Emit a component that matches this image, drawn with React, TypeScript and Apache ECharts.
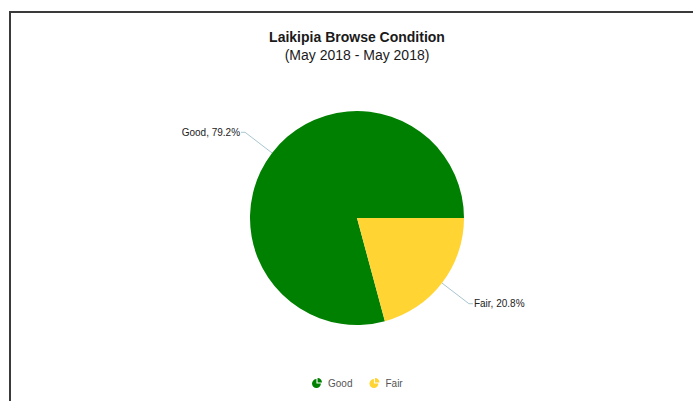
import React, { useEffect, useRef } from "react";
import * as echarts from "echarts";

const categories: string[] = ["Good", "Fair"];
const percentValues: number[] = [79.2, 20.8];
const sliceColors: string[] = ["#008000", "#ffd433"];
const titleText = "Laikipia Browse Condition";
const subtitleText = "(May 2018 - May 2018)";

const legendIcon =
  "path://M9,11 L9,3 A8,8 0 1,0 17,11 Z M11,9 L19,9 A8,8 0 0,0 11,1 Z";

export default function App() {
  const ref = useRef<HTMLDivElement>(null);
  useEffect(() => {
    if (!ref.current) return;
    const chart = echarts.init(ref.current, undefined, { renderer: "svg" });
    const fairShare = percentValues[1] / percentValues.reduce((a, b) => a + b, 0);
    chart.setOption({
      animation: false,
      backgroundColor: "#ffffff",
      graphic: [
        { type: "line", shape: { x1: 9, y1: 12, x2: 693, y2: 12 }, style: { stroke: "#3a3a3a", lineWidth: 2 } },
        { type: "line", shape: { x1: 10, y1: 11, x2: 10, y2: 401 }, style: { stroke: "#3a3a3a", lineWidth: 2 } },
        {
          type: "text",
          x: 357,
          y: 37,
          style: {
            text: titleText,
            textAlign: "center",
            textVerticalAlign: "middle",
            font: "bold 14px 'Liberation Sans', Arial, sans-serif",
            fill: "#1a1a1a",
          },
        },
        {
          type: "text",
          x: 357,
          y: 55,
          style: {
            text: subtitleText,
            textAlign: "center",
            textVerticalAlign: "middle",
            font: "14px 'Liberation Sans', Arial, sans-serif",
            fill: "#1a1a1a",
          },
        },
      ],
      legend: {
        data: categories,
        left: 312,
        top: 378,
        padding: 0,
        itemWidth: 10,
        itemHeight: 10,
        itemGap: 17,
        icon: legendIcon,
        textStyle: {
          fontFamily: "'Liberation Sans', Arial, sans-serif",
          fontSize: 10,
          color: "#555",
          padding: [0, 0, 0, 1],
        },
      },
      series: [
        {
          type: "pie",
          center: [357, 218],
          radius: 107,
          startAngle: -360 * fairShare,
          clockwise: true,
          data: categories.map((name, i) => ({
            name,
            value: percentValues[i],
            itemStyle: { color: sliceColors[i] },
          })),
          itemStyle: { borderWidth: 0 },
          label: {
            show: true,
            formatter: (p: any) => `${p.name}, ${p.value.toFixed(1)}%`,
            fontFamily: "'Liberation Sans', Arial, sans-serif",
            fontSize: 10,
            color: "#222",
            distanceToLabelLine: 1,
          },
          labelLine: {
            show: true,
            length: 34,
            length2: 4,
            smooth: false,
            lineStyle: { color: "#a8c6d0", width: 1 },
          },
          emphasis: { disabled: true },
        },
      ],
    });
    return () => chart.dispose();
  }, []);
  return (
    <div
      ref={ref}
      style={{ position: "fixed", left: 0, top: 0, width: 693, height: 401 }}
    />
  );
}
